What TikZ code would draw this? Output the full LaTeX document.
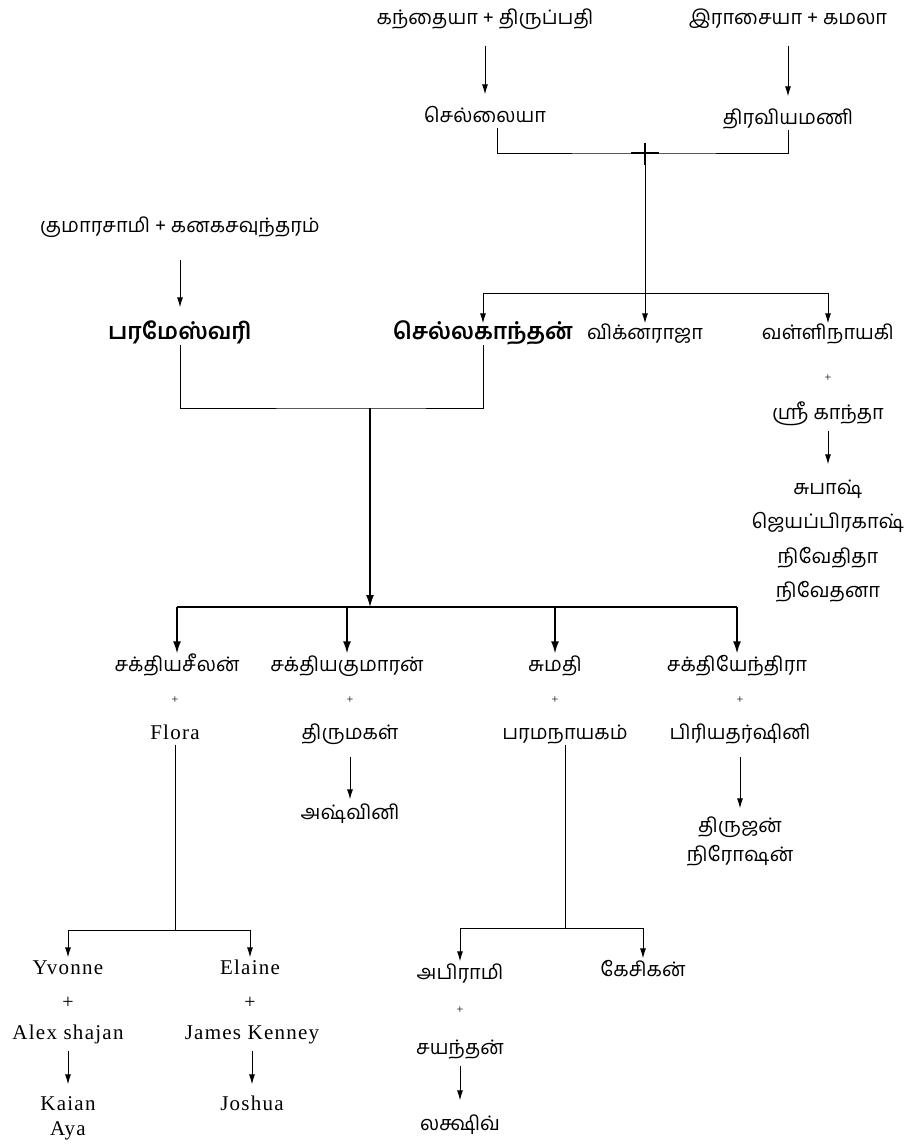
\documentclass[tikz,border=0pt]{standalone}
\usepackage{fontspec}
\setmainfont{Liberation Serif}
\newfontfamily\tamil[Script=Tamil]{Hind Madurai}
\newfontfamily\eng[LetterSpace=6]{Liberation Serif}
\usetikzlibrary{
  arrows.meta,
  calc,
  positioning,
}
\tikzstyle{person} = [
  font=\tamil\fontsize{20}{24}\selectfont,
  inner sep=0pt,
  text height=14pt,
  text depth=5pt,
]
\tikzstyle{boldperson} = [
  person,
  font=\tamil\bfseries\fontsize{23}{27}\selectfont,
]
\tikzstyle{english} = [
  person,
  font=\eng\fontsize{21}{25}\selectfont,
]
\tikzstyle{plussign} = [
  inner sep=0pt,
  font=\fontsize{12}{14}\selectfont,
]
\tikzstyle{arrow} = [
  -{Latex[length=10pt,width=6pt]},
  line width=0.9pt,
  shorten <=10pt,
  shorten >=6pt,
]
\tikzstyle{bigarrow} = [
  -{Latex[length=12pt,width=8pt]},
  line width=1.4pt,
]
\tikzstyle{link} = [line width=0.9pt]

\begin{document}
\begin{tikzpicture}[x=1pt,y=-1pt,node distance=15pt and 0pt]
    \useasboundingbox (0,0) rectangle (924,1144);

    % grandparents
    \node[person] (kandaiya) at (485,20) {கந்தையா + திருப்பதி};
    \node[person] (rasaiya) at (788,20) {இராசையா + கமலா};
    \node[person] (chellaiya) at (485,118) {செல்லையா};
    \node[person] (thiraviya) at (788,120) {திரவியமணி};
    \draw[arrow,shorten <=16pt,shorten >=14pt] (kandaiya) -- (chellaiya);
    \draw[arrow,shorten <=16pt,shorten >=14pt] (rasaiya) -- (thiraviya);

    \node[person] (kumarasamy) at (180,228) {குமாரசாமி + கனகசவுந்தரம்};
    \node[boldperson] (paramesvari) at (180,335) {பரமேஸ்வரி};
    \draw[arrow,shorten <=22pt,shorten >=18pt] (kumarasamy) -- (paramesvari);

    % chellaiya + thiraviyamani
    \coordinate (j1) at (645,153);
    \draw[link] ([xshift=12pt]chellaiya.south) |- (j1) -| (thiraviya.south);
    \draw[line width=2.2pt] ($(j1)+(-14,0)$) -- ($(j1)+(14,0)$);
    \draw[line width=2.2pt] ($(j1)+(0,-10)$) -- ($(j1)+(0,12)$);

    \node[boldperson] (chelkanthan) at (483,335) {செல்லகாந்தன்};
    \node[person] (vignaraja) at (645,335) {விக்னராஜா};
    \node[person] (valli) at (828,335) {வள்ளிநாயகி};
    \coordinate (j2) at (645,293);
    \draw[arrow,shorten <=0pt,shorten >=2pt] (j1) -- (vignaraja);
    \draw[arrow,shorten <=0pt,shorten >=2pt] (j2) -| (chelkanthan);
    \draw[arrow,shorten <=0pt,shorten >=2pt] (j2) -| (valli);

    % valli's family
    \node[plussign] (pv) at (828,378) {+};
    \node[person] (srikantha) at (828,415) {ஸ்ரீ காந்தா};
    \node[person] (subash) at (828,490) {சுபாஷ்};
    \node[person] (jeya) [below=of subash] {ஜெயப்பிரகாஷ்};
    \node[person] (nivethitha) [below=of jeya] {நிவேதிதா};
    \node[person] (nivethana) [below=of nivethitha] {நிவேதனா};
    \draw[arrow,shorten <=6pt,shorten >=16pt] (srikantha) -- (subash);

    % paramesvari + chelkanthan
    \coordinate (j3) at (370,408);
    \coordinate (j4) at (370,607);
    \draw[link] (paramesvari) |- (j3) -| (chelkanthan);
    \draw[bigarrow] (j3) -- (j4);

    \node[person] (seelan) at (177,667) {சக்தியசீலன்};
    \node[person] (kumaran) at (347,667) {சக்தியகுமாரன்};
    \node[person] (sumathi) at (555,667) {சுமதி};
    \node[person] (yendira) at (737,667) {சக்தியேந்திரா};
    \draw[line width=1.4pt] (seelan.north |- j4) -- (yendira.north |- j4);
    \foreach \kid in {seelan,kumaran,sumathi,yendira}
        \draw[bigarrow,shorten >=4pt] (\kid.north |- j4) -- (\kid.north);

    \node[plussign] (p1) at (175,700) {+};
    \node[plussign] (p2) at (350,700) {+};
    \node[plussign] (p3) at (555,700) {+};
    \node[plussign] (p4) at (740,700) {+};
    \node[english] (flora) at (175,735) {Flora};
    \node[person] (thirumagal) at (350,735) {திருமகள்};
    \node[person] (paramanayagam) at (565,735) {பரமநாயகம்};
    \node[person] (priya) at (740,735) {பிரியதர்ஷினி};

    \node[person] (ashwini) at (350,815) {அஷ்வினி};
    \draw[arrow,shorten <=12pt] (thirumagal) -- (ashwini);
    \node[person] (thirujan) at (740,828) {திருஜன்};
    \node[person] (nirosan) at (740,857) {நிரோஷன்};
    \draw[arrow,shorten <=12pt,shorten >=10pt] (priya) -- (thirujan);

    % seelan + flora
    \coordinate (j5) at (175,930);
    \node[english] (yvonne) at (68,970) {Yvonne};
    \node[english] (elaine) at (250,970) {Elaine};
    \draw[link] (flora) -- (j5);
    \draw[link] (yvonne.north |- j5) -- (elaine.north |- j5);
    \foreach \kid in {yvonne,elaine}
        \draw[arrow,shorten <=0pt,shorten >=3pt] (\kid.north |- j5) -- (\kid.north);
    \node[plussign,font=\fontsize{20}{22}\selectfont] (p5) at (68,1003) {+};
    \node[plussign,font=\fontsize{20}{22}\selectfont] (p6) at (250,1003) {+};
    \node[english] (alex) at (68,1035) {Alex shajan};
    \node[english] (james) at (252,1035) {James Kenney};
    \node[english] (kaian) at (68,1106) {Kaian};
    \node[english] (aya) at (68,1131) {Aya};
    \node[english] (joshua) at (252,1106) {Joshua};
    \draw[arrow,shorten <=6pt,shorten >=12pt] (alex) -- (kaian);
    \draw[arrow,shorten <=6pt,shorten >=12pt] (james) -- (joshua);

    % sumathi + paramanayagam
    \coordinate (j6) at (565,928);
    \node[person] (abirami) at (460,975) {அபிராமி};
    \node[person] (kesikan) at (643,972) {கேசிகன்};
    \draw[link] (paramanayagam) -- (j6);
    \draw[link] (abirami.north |- j6) -- (kesikan.north |- j6);
    \foreach \kid in {abirami,kesikan}
        \draw[arrow,shorten <=0pt,shorten >=4pt] (\kid.north |- j6) -- (\kid.north);
    \node[plussign] (p7) at (460,1010) {+};
    \node[person] (sayanthan) at (460,1050) {சயந்தன்};
    \node[person] (lakshiv) at (460,1126) {லக்ஷிவ்};
    \draw[arrow,shorten <=6pt,shorten >=16pt] (sayanthan) -- (lakshiv);
\end{tikzpicture}
\end{document}
